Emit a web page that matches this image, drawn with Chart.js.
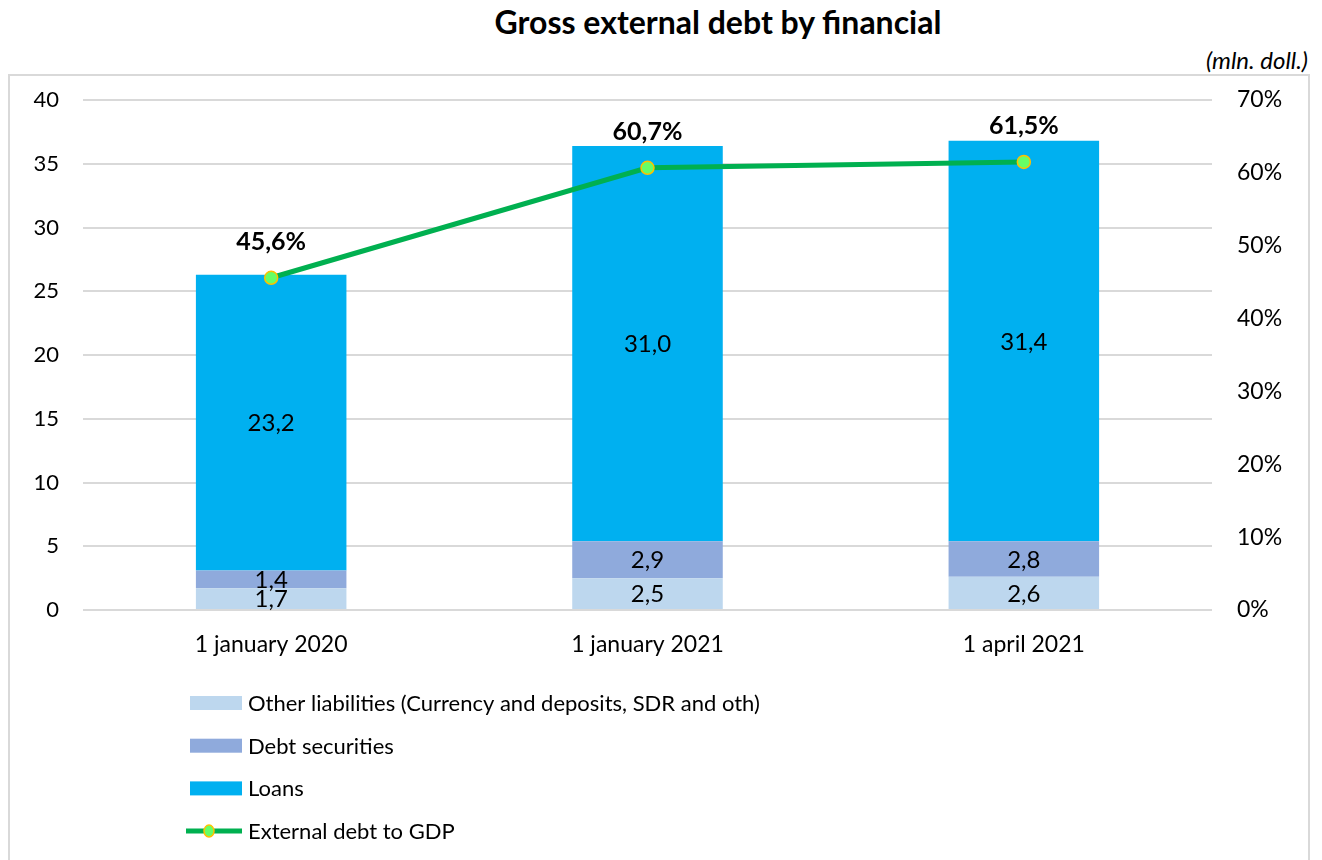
<!DOCTYPE html>
<html>
<head>
<meta charset="utf-8">
<script src="https://cdn.jsdelivr.net/npm/chart.js@4.4.1/dist/chart.umd.min.js"></script>
<style>
  html, body { margin: 0; padding: 0; background: #fff; }
  #wrap { position: relative; width: 1322px; height: 860px; overflow: hidden; font-family: Lato, sans-serif; }
  #title { position: absolute; left: 0; top: 2px; width: 1436px; text-align: center; font-weight: bold; font-size: 32px; color: #000; }
  #unit { position: absolute; right: 14px; top: 45px; font-style: italic; font-size: 24px; color: #000; }
  #frame { position: absolute; left: 8px; top: 74px; width: 1298px; height: 800px; border: 2px solid #d9d9d9; }
  #myChart { position: absolute; left: 0; top: 0; }
</style>
</head>
<body>
<div id="wrap">
  <div id="frame"></div>
  <div id="title">Gross external debt by financial</div>
  <div id="unit">(mln. doll.)</div>
  <canvas id="myChart" width="1322" height="860"></canvas>
</div>
<script>
const categories = ["1 january 2020", "1 january 2021", "1 april 2021"];
const otherLiabilities = [1.7, 2.5, 2.6];
const debtSecurities = [1.4, 2.9, 2.8];
const loans = [23.2, 31.0, 31.4];
const debtToGdp = [45.6, 60.7, 61.5];

const FONT = "Lato, sans-serif";
const fmt = (v, d) => v.toFixed(d).replace(".", ",");

// value labels on the bars and above the line points
const valueLabels = {
  id: "valueLabels",
  afterDatasetsDraw(chart) {
    const ctx = chart.ctx;
    ctx.save();
    ctx.textAlign = "center";
    ctx.textBaseline = "middle";
    chart.data.datasets.forEach((ds, i) => {
      const meta = chart.getDatasetMeta(i);
      meta.data.forEach((el, j) => {
        ctx.fillStyle = "#000";
        if (ds.type === "line") {
          ctx.font = "bold 25px " + FONT;
          ctx.fillText(fmt(ds.data[j], 1) + "%", el.x, el.y - 36);
        } else {
          ctx.font = "24px " + FONT;
          ctx.fillText(fmt(ds.data[j], 1), el.x, (el.y + el.base) / 2 + 1);
        }
      });
    });
    ctx.restore();
  }
};

// vertical legend under the chart
const sideLegend = {
  id: "sideLegend",
  afterDraw(chart) {
    const ctx = chart.ctx;
    ctx.save();
    ctx.font = "22px " + FONT;
    ctx.textBaseline = "middle";
    ctx.textAlign = "left";
    let y = 703;
    chart.data.datasets.forEach((ds) => {
      if (ds.type === "line") {
        ctx.strokeStyle = ds.borderColor;
        ctx.lineWidth = 5;
        ctx.beginPath();
        ctx.moveTo(186, y);
        ctx.lineTo(242, y);
        ctx.stroke();
        ctx.beginPath();
        ctx.ellipse(209, y, 5, 6, 0, 0, Math.PI * 2);
        ctx.fillStyle = ds.pointBackgroundColor;
        ctx.fill();
        ctx.lineWidth = 1.5;
        ctx.strokeStyle = ds.pointBorderColor;
        ctx.stroke();
      } else {
        ctx.fillStyle = ds.backgroundColor;
        ctx.fillRect(190, y - 7, 52, 14);
      }
      ctx.fillStyle = "#000";
      ctx.fillText(ds.label, 248, y + 1);
      y += 42.7;
    });
    ctx.restore();
  }
};

const data = {
  labels: categories,
  datasets: [
    {
      label: "Other liabilities (Currency and deposits, SDR and oth)",
      backgroundColor: "#bdd7ee",
      data: otherLiabilities,
      yAxisID: "y",
      order: 1,
    },
    {
      label: "Debt securities",
      backgroundColor: "#8faadc",
      data: debtSecurities,
      yAxisID: "y",
      order: 1,
    },
    {
      label: "Loans",
      backgroundColor: "#00b0f0",
      data: loans,
      yAxisID: "y",
      order: 1,
    },
    {
      type: "line",
      label: "External debt to GDP",
      borderColor: "#00b050",
      borderWidth: 5,
      pointBackgroundColor: "#66ff66",
      pointBorderColor: "#ffc000",
      pointBorderWidth: 1.5,
      pointRadius: 6.5,
      data: debtToGdp,
      yAxisID: "y1",
      order: 0,
    },
  ],
};

const config = {
  type: "bar",
  data: data,
  options: {
    responsive: false,
    animation: false,
    datasets: { bar: { barPercentage: 0.4, categoryPercentage: 1 } },
    layout: { padding: { top: 100, bottom: 200, left: 0, right: 0 } },
    plugins: { legend: { display: false }, tooltip: { enabled: false } },
    scales: {
      x: {
        stacked: true,
        grid: { display: false, drawTicks: false },
        border: { display: false },
        ticks: { color: "#000", font: { family: FONT, size: 23 }, padding: 21 },
        afterFit: (s) => { s.height = 50; },
      },
      y: {
        stacked: true,
        position: "left",
        min: 0, max: 40,
        ticks: { stepSize: 5, color: "#000", font: { family: FONT, size: 22 }, padding: 24 },
        grid: { color: "#d9d9d9", lineWidth: 2, drawTicks: false },
        border: { display: false },
        afterFit: (s) => { s.width = 83; },
      },
      y1: {
        position: "right",
        min: 0, max: 70,
        ticks: { stepSize: 10, color: "#000", font: { family: FONT, size: 23 }, padding: 25, callback: (v) => v + "%" },
        grid: { display: false, drawTicks: false },
        border: { display: false },
        afterFit: (s) => { s.width = 110; },
      },
    },
  },
  plugins: [valueLabels, sideLegend],
};

const myChart = new Chart(document.getElementById("myChart"), config);
</script>
</body>
</html>
